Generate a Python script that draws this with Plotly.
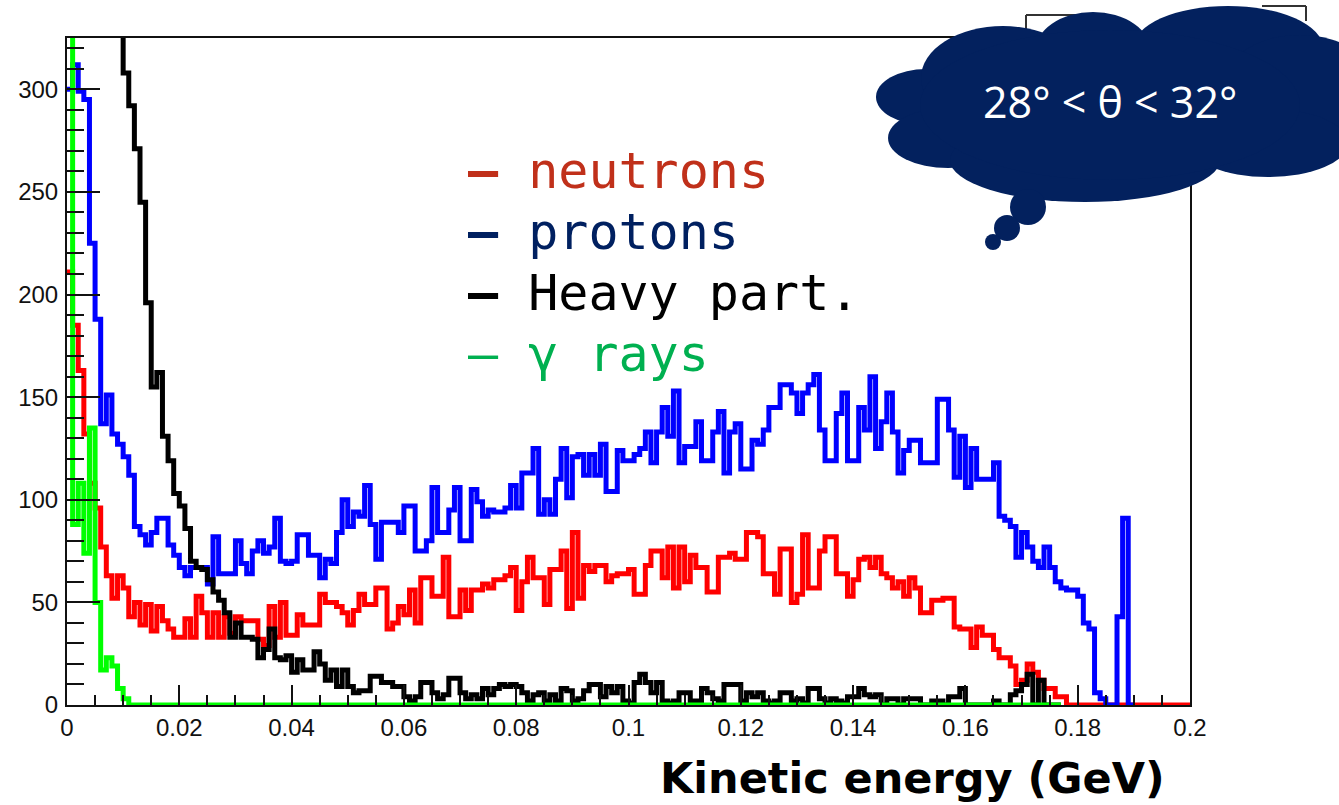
import numpy as np
import plotly.graph_objects as go

# ---------------- data (bin contents, bin width 0.001 GeV) ----------------
bin_width = 0.001

neutrons = [
    211, 185, 163, 132, 108, 96, 77, 63, 52, 63,
    57, 43, 50, 39, 49, 36, 48, 41, 37, 33,
    33, 42, 33, 53, 45, 33, 45, 33, 43, 35,
    43, 41, 41, 41, 32, 29, 48, 33, 50, 34,
    34, 44, 39, 39, 39, 54, 50, 50, 48, 45,
    39, 46, 54, 49, 49, 57, 57, 37, 40, 48,
    44, 56, 40, 62, 62, 53, 53, 72, 43, 43,
    56, 46, 56, 56, 59, 57, 61, 61, 63, 67,
    46, 60, 72, 62, 62, 49, 66, 66, 75, 47,
    84, 52, 68, 65, 68, 68, 60, 63, 64, 64,
    66, 54, 54, 68, 75, 75, 62, 77, 57, 77,
    60, 73, 67, 67, 55, 55, 72, 72, 74, 71,
    71, 84, 84, 82, 64, 64, 54, 76, 76, 50,
    54, 83, 57, 57, 75, 82, 82, 64, 64, 53,
    61, 71, 72, 67, 72, 64, 62, 57, 60, 53,
    62, 57, 45, 45, 51, 51, 52, 52, 38, 37,
    37, 28, 38, 34, 34, 27, 23, 23, 19, 10,
    12, 20, 16, 12, 8, 8, 4, 4, 0, 0,
    0, 0, 0, 0, 0, 0, 0, 0, 0, 0,
    0, 0, 0, 0, 0, 0, 0, 0, 0, 0,
]

protons = [
    300, 312, 299, 295, 225, 188, 137, 151, 132, 127,
    121, 112, 87, 83, 78, 84, 91, 91, 78, 73,
    67, 63, 67, 67, 67, 59, 82, 64, 64, 64,
    80, 69, 64, 75, 80, 74, 77, 91, 70, 69,
    70, 83, 83, 73, 73, 62, 71, 69, 84, 100,
    87, 94, 92, 107, 88, 71, 89, 89, 89, 84,
    97, 97, 75, 75, 80, 106, 84, 84, 95, 106,
    80, 80, 105, 99, 92, 95, 94, 94, 96, 107,
    96, 113, 113, 125, 93, 100, 93, 110, 125, 101,
    121, 122, 112, 122, 112, 127, 104, 104, 124, 119,
    119, 122, 125, 133, 118, 133, 145, 131, 153, 118,
    126, 126, 138, 119, 119, 133, 143, 113, 133, 137,
    115, 115, 129, 127, 134, 145, 145, 156, 156, 152,
    142, 152, 156, 161, 134, 119, 119, 142, 152, 119,
    119, 145, 134, 160, 125, 138, 152, 133, 113, 124,
    129, 129, 118, 118, 118, 149, 149, 134, 111, 131,
    106, 125, 110, 110, 110, 118, 92, 90, 87, 72,
    84, 77, 70, 67, 77, 67, 60, 57, 56, 56,
    53, 40, 37, 6, 3, 0, 0, 43, 91, 0,
]

heavy = [
    1500, 1300, 1150, 1000, 880, 760, 650, 560, 470, 390,
    308, 292, 271, 245, 196, 155, 162, 131, 119, 103,
    97, 86, 70, 67, 66, 61, 55, 51, 45, 33,
    40, 33, 33, 32, 23, 27, 37, 23, 22, 24,
    16, 22, 17, 17, 26, 20, 12, 17, 9, 17,
    9, 6, 7, 7, 14, 14, 11, 11, 9, 9,
    4, 2, 4, 11, 11, 6, 3, 5, 13, 13,
    6, 3, 5, 3, 8, 5, 8, 10, 9, 10,
    9, 6, 2, 5, 6, 2, 5, 2, 8, 7,
    2, 3, 7, 10, 10, 4, 9, 6, 9, 2,
    1, 11, 15, 11, 6, 11, 2, 1, 2, 6,
    6, 2, 2, 8, 6, 3, 2, 10, 10, 10,
    2, 6, 4, 6, 2, 1, 2, 6, 6, 2,
    3, 1, 8, 8, 3, 1, 3, 2, 1, 4,
    4, 8, 5, 4, 5, 0, 3, 3, 0, 3,
    3, 3, 0, 0, 2, 2, 0, 4, 4, 8,
    0, 0, 0, 0, 0, 2, 0, 0, 5, 7,
    10, 15, 0, 12, 0, 0, 0,
]

gamma_rays = [900, 88, 108, 74, 135, 50, 17, 23, 19, 8, 3] + [0] * 166

x_tick_vals = [0, 0.02, 0.04, 0.06, 0.08, 0.1, 0.12, 0.14, 0.16, 0.18, 0.2]
x_tick_text = ["0", "0.02", "0.04", "0.06", "0.08", "0.1", "0.12", "0.14", "0.16", "0.18", "0.2"]
y_tick_vals = [0, 50, 100, 150, 200, 250, 300]
y_tick_text = ["0", "50", "100", "150", "200", "250", "300"]

legend_dashes = ["<b>\u2013</b>", "<b>\u2013</b>", "<b>\u2013</b>", "\u2013"]
legend_names = ["neutrons", "protons", "Heavy part.", "\u03b3 rays"]
legend_colors = ["#C0301A", "#002060", "#000000", "#00B050"]

# ---------------- geometry helpers ----------------
W, H = 1339, 805
PL, PR, PT, PB = 67, 1190, 38, 705


def px(x):
    return (x - PL) / (PR - PL)


def py(y):
    return (PB - y) / (PB - PT)


def steps(vals):
    edges = np.arange(len(vals) + 1) * bin_width
    return edges, list(vals) + [vals[-1]]


fig = go.Figure()
series = [(neutrons, "#FF0000"), (protons, "#0000FF"), (heavy, "#000000"), (gamma_rays, "#00FF00")]
for vals, col in series:
    xs, ys = steps(vals)
    fig.add_trace(go.Scatter(x=xs, y=ys, mode="lines", line=dict(shape="hv", color=col, width=5),
                             showlegend=False, hoverinfo="skip"))

axis_common = dict(showline=True, linecolor="#111111", linewidth=2, mirror=True, showgrid=False,
                   zeroline=False, ticks="inside", tickcolor="#111111", tickwidth=2,
                   tickfont=dict(family="Liberation Sans", size=24, color="#111111"))

fig.update_xaxes(range=[0, 0.2], tickvals=x_tick_vals, ticktext=x_tick_text, ticklen=20,
                 minor=dict(ticks="inside", ticklen=10, dtick=0.005, tickcolor="#111111", tickwidth=2),
                 ticklabelstandoff=0, **axis_common)
fig.update_yaxes(range=[0, 325], tickvals=y_tick_vals, ticktext=y_tick_text, ticklen=33,
                 minor=dict(ticks="inside", ticklen=17, dtick=10, tickcolor="#111111", tickwidth=2),
                 ticklabelstandoff=2, **axis_common)

shapes = []
# fragments of boxes peeking out around the cloud
for (x0, y0, x1, y1) in [(1026, 15, 1026, 38), (1026, 15, 1080, 15), (1262, 6, 1306, 6), (1306, 6, 1306, 21)]:
    shapes.append(dict(type="line", xref="paper", yref="paper", x0=px(x0), y0=py(y0), x1=px(x1), y1=py(y1),
                       line=dict(color="#333333", width=2)))
cloud_color = "#03215E"
lobes = [(926, 97, 50, 28), (948, 138, 60, 30), (1003, 78, 82, 52), (1093, 52, 58, 40),
         (1228, 48, 95, 42), (1300, 90, 80, 55), (1085, 160, 135, 42), (1268, 143, 80, 34),
         (1110, 105, 190, 75), (1028, 207, 18, 18), (1007, 228, 13, 13), (993, 242, 8, 8)]
for (cx, cy, rx, ry) in lobes:
    shapes.append(dict(type="circle", xref="paper", yref="paper", x0=px(cx - rx), x1=px(cx + rx),
                       y0=py(cy + ry), y1=py(cy - ry), fillcolor=cloud_color, line=dict(width=0),
                       layer="above"))

annotations = []
for i, (dash, name, col) in enumerate(zip(legend_dashes, legend_names, legend_colors)):
    annotations.append(dict(xref="paper", yref="paper", x=px(466), y=py(171 + 61 * i), xanchor="left",
                            yanchor="middle", text=dash + " " + name, showarrow=False,
                            font=dict(family="DejaVu Sans Mono", size=50, color=col)))
annotations.append(dict(xref="paper", yref="paper", x=px(1110), y=py(102), xanchor="center", yanchor="middle",
                        text="28\u00b0 < \u03b8 < 32\u00b0", showarrow=False,
                        font=dict(family="Open Sans", size=43, color="white")))
annotations.append(dict(xref="paper", yref="paper", x=px(912), y=py(778), xanchor="center", yanchor="middle",
                        text="<b>Kinetic energy (GeV)</b>", showarrow=False,
                        font=dict(family="DejaVu Sans", size=43, color="black")))

fig.update_layout(width=W, height=H, autosize=False,
                  margin=dict(l=PL, r=W - PR, t=PT, b=H - PB, pad=0),
                  paper_bgcolor="white", plot_bgcolor="white",
                  shapes=shapes, annotations=annotations, showlegend=False)

fig.write_html("out.html")
